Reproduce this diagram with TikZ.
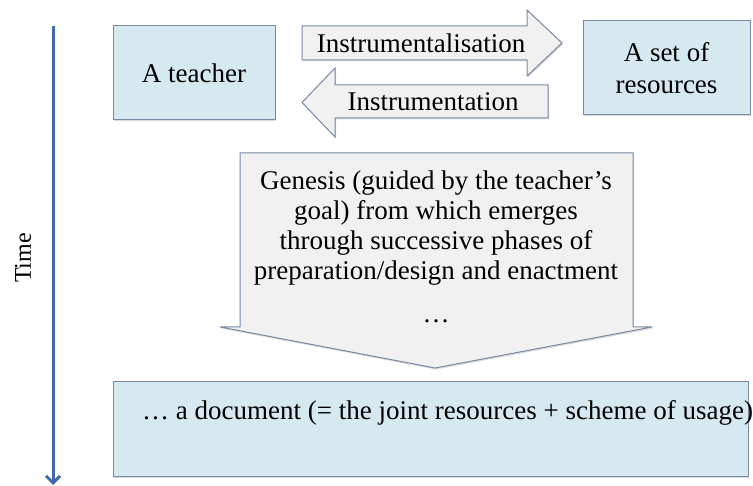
\documentclass[tikz,border=0pt]{standalone}
\usepackage{fontspec}
\setmainfont{Liberation Serif}
\usetikzlibrary{arrows.meta,shadows}
\definecolor{boxblue}{RGB}{214,233,241}
\definecolor{boxedge}{RGB}{120,138,164}
\definecolor{arrowgray}{RGB}{241,241,242}
\definecolor{timeblue}{RGB}{66,104,172}

\begin{document}
\begin{tikzpicture}[x=1pt,y=-1pt,
	shade/.style={drop shadow={shadow xshift=1pt,shadow yshift=-1.5pt,opacity=0.3}},
	bluebox/.style={draw=boxedge,fill=boxblue,line width=1pt,shade,minimum height=94pt,align=center,inner sep=0pt,font=\fontsize{27}{32}\selectfont},
	blockarrow/.style={draw=boxedge,fill=arrowgray,line width=1pt,shade},
	txt/.style={font=\fontsize{27}{29.7}\selectfont,align=center,inner sep=0pt}]
				\useasboundingbox (0,0) rectangle (753,486);
				\coordinate (tstart) at (53,26);
				\coordinate (tend) at (53,485);
				\draw[timeblue,line width=3pt,-{Straight Barb[length=7pt,width=14pt]}] (tstart) -- (tend);
				\node[rotate=90,inner sep=0pt,font=\fontsize{24}{28}\selectfont] (time) at (23,258) {Time};
				\node[bluebox,minimum width=162pt] (teacher) at (194,73) {A teacher};
				\node[bluebox,minimum width=167pt] (res) at (666.5,68) {A set of\\resources};
				\draw[blockarrow] (302,26) -- (527,26) -- (527,10) -- (562,43) -- (527,76) -- (527,60) -- (302,60) -- cycle;
				\node[txt] (instl) at (421,43) {Instrumentalisation};
				\draw[blockarrow] (548,85) -- (335,85) -- (335,68) -- (302,102.5) -- (335,137) -- (335,118) -- (548,118) -- cycle;
				\node[txt] (instn) at (433,102) {Instrumentation};
				\draw[blockarrow] (240,153) -- (633,153) -- (633,327) -- (652,327) -- (435,368) -- (220,327) -- (240,327) -- cycle;
				\node[txt] (genesis) at (436,228) {Genesis (guided by the teacher’s\\goal) from which emerges\\through successive phases of\\preparation/design and enactment};
				\node[txt] (dots) at (436,321) {…};
				\node[bluebox,minimum width=635pt] (doc) at (430.5,429) {};
				\node[txt,anchor=west] (doctext) at (142,413) {… a document (= the joint resources + scheme of usage)};
				\end{tikzpicture}
\end{document}
